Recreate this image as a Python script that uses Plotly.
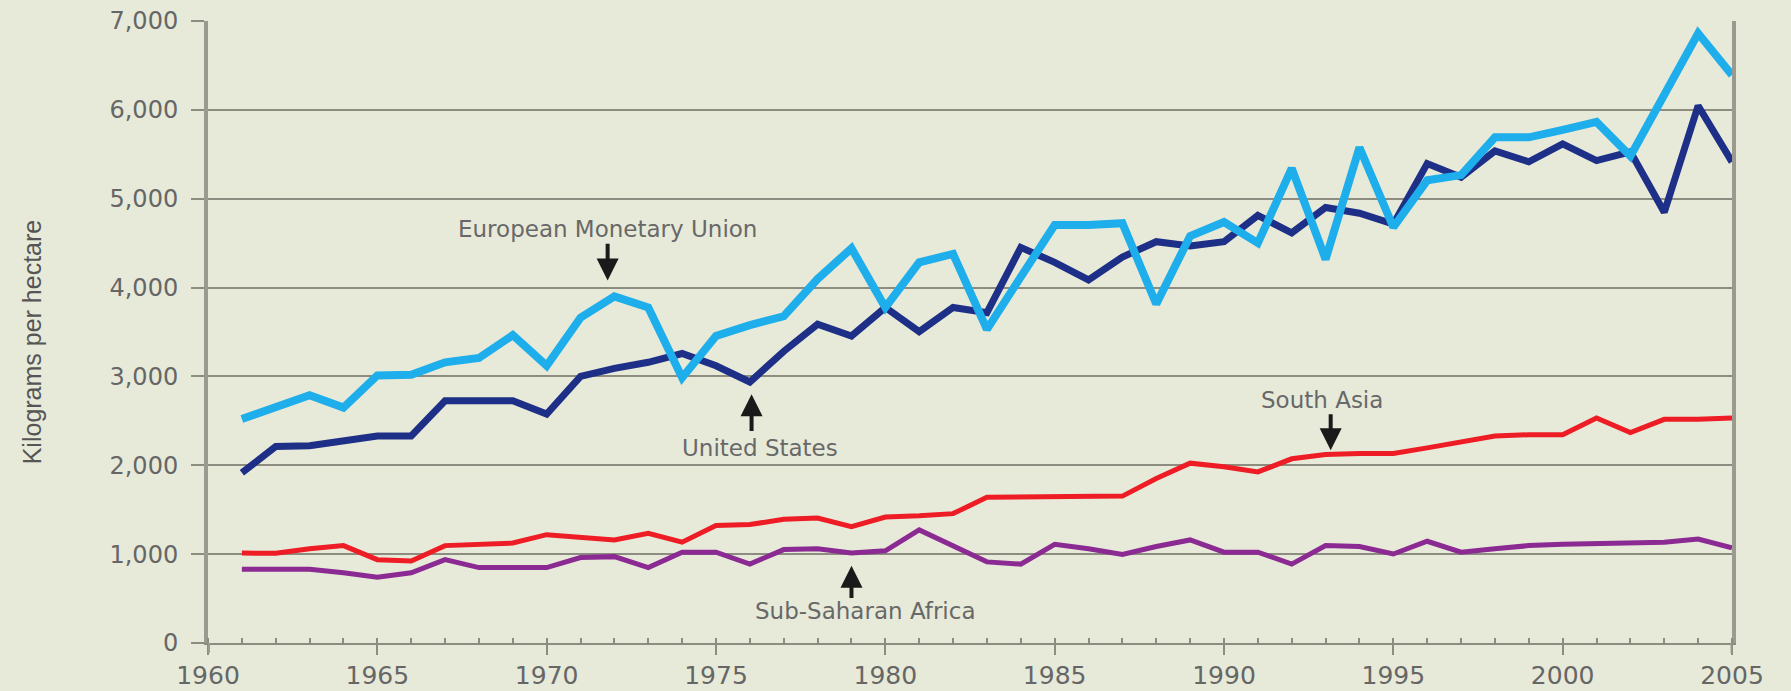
import plotly.graph_objects as go

years = list(range(1961, 2006))

emu = [2520, 2650, 2789, 2650, 3011, 3020, 3159, 3208, 3465, 3120,
       3662, 3900, 3776, 2986, 3455, 3578, 3677, 4097, 4442, 3776,
       4284, 4378, 3529, 4121, 4704, 4704, 4724, 3815, 4580, 4738,
       4501, 5341, 4319, 5577, 4679, 5207, 5266, 5691, 5691, 5775,
       5864, 5479, 6194, 6861, 6392]

us = [1915, 2211, 2221, 2280, 2330, 2330, 2725, 2725, 2725, 2577,
      3001, 3090, 3159, 3258, 3120, 2937, 3282, 3588, 3455, 3776,
      3504, 3776, 3717, 4452, 4284, 4087, 4344, 4516, 4467, 4516,
      4812, 4615, 4901, 4837, 4714, 5395, 5242, 5538, 5415, 5617,
      5429, 5528, 4847, 6046, 5415]

south_asia = [1012, 1010, 1061, 1096, 938, 923, 1096, 1110, 1125, 1219,
              1185, 1160, 1234, 1135, 1323, 1333, 1392, 1407, 1308, 1417,
              1431, 1456, 1639, 1639, 1639, 1639, 1653, 1851, 2024, 1984,
              1925, 2073, 2122, 2132, 2132, 2196, 2261, 2330, 2344, 2344,
              2532, 2369, 2517, 2517, 2532]

ssa = [829, 830, 830, 790, 740, 790, 938, 849, 849, 849,
       962, 972, 849, 1022, 1022, 888, 1051, 1061, 1012, 1037,
       1273, 1096, 913, 888, 1111, 1061, 997, 1086, 1160, 1022,
       1022, 888, 1096, 1086, 1002, 1145, 1022, 1061, 1096, 1111,
       1120, 1120, 1135, 1170, 1071]

y_ticks = [0, 1000, 2000, 3000, 4000, 5000, 6000, 7000]
y_tick_text = ["0", "1,000", "2,000", "3,000", "4,000", "5,000", "6,000", "7,000"]
x_ticks = [1960, 1965, 1970, 1975, 1980, 1985, 1990, 1995, 2000, 2005]

# annotation labels: (text, x, y)
labels = [
    ("European Monetary Union", 1971.8, 4660),
    ("United States", 1976.3, 2190),
    ("South Asia", 1992.9, 2740),
    ("Sub-Saharan Africa", 1979.4, 355),
]
# arrows: (tip_x, tip_y, tail_x, tail_y)
arrows = [
    (1971.8, 4080, 1971.8, 4510),
    (1976.05, 2800, 1976.05, 2370),
    (1993.15, 2170, 1993.15, 2590),
    (1979.0, 870, 1979.0, 490),
]

BG = "#E7EAD9"
GRID = "#8C8C80"
TXT = "#686868"

fig = go.Figure()
fig.add_trace(go.Scatter(x=years, y=ssa, mode="lines", line=dict(color="#8B2A92", width=5), name="Sub-Saharan Africa"))
fig.add_trace(go.Scatter(x=years, y=south_asia, mode="lines", line=dict(color="#EE1C25", width=5), name="South Asia"))
fig.add_trace(go.Scatter(x=years, y=us, mode="lines", line=dict(color="#1D2F87", width=7), name="United States"))
fig.add_trace(go.Scatter(x=years, y=emu, mode="lines", line=dict(color="#1EAEEB", width=8), name="European Monetary Union"))

for text, x, y in labels:
    fig.add_annotation(x=x, y=y, xref="x", yref="y", text=text, showarrow=False,
                       font=dict(family="DejaVu Sans", size=23, color=TXT))
for tx, ty, ax, ay in arrows:
    fig.add_annotation(x=tx, y=ty, ax=ax, ay=ay, xref="x", yref="y", axref="x", ayref="y",
                       text="", showarrow=True, arrowhead=2, arrowsize=1.1, arrowwidth=4,
                       arrowcolor="#1A1A1A", standoff=0)

fig.add_annotation(text="Kilograms per hectare", xref="paper", yref="paper",
                   x=-0.1155, y=0.485, xanchor="center", yanchor="middle", textangle=-90,
                   showarrow=False, font=dict(family="Liberation Sans", size=25, color="#555555"))

# y-axis line extends slightly below the x-axis
fig.add_shape(type="line", xref="x", yref="paper", x0=1960, x1=1960, y0=-0.016, y1=0,
              line=dict(color="#9A9A90", width=4))
fig.add_shape(type="line", xref="x", yref="paper", x0=2005, x1=2005, y0=-0.016, y1=0,
              line=dict(color="#9A9A90", width=3))

fig.update_layout(
    width=1791, height=691,
    paper_bgcolor=BG, plot_bgcolor=BG,
    margin=dict(l=208, r=59, t=21, b=48),
    showlegend=False,
    xaxis=dict(range=[1960, 2005], tickvals=x_ticks, ticktext=[str(v) for v in x_ticks],
               showgrid=False, zeroline=False, showline=True, linecolor=GRID, linewidth=2,
               ticks="outside", ticklen=10, tickwidth=2, tickcolor=GRID,
               minor=dict(dtick=1, ticks="inside", ticklen=5, tickwidth=2, tickcolor=GRID, showgrid=False),
               tickfont=dict(family="DejaVu Sans", size=25, color="#666666"),
               ticklabelstandoff=-1, automargin=False),
    yaxis=dict(range=[0, 7000], tickvals=y_ticks, ticktext=y_tick_text,
               showgrid=True, gridcolor=GRID, gridwidth=2, zeroline=False,
               showline=True, linecolor="#9A9A90", linewidth=4, mirror=True,
               ticks="outside", ticklen=13, tickwidth=2, tickcolor=GRID,
               tickfont=dict(family="DejaVu Sans", size=24, color="#666666"),
               ticklabelstandoff=8, automargin=False),
)

fig.write_html("out.html", config={"displayModeBar": False},
               post_script="document.body.style.margin='0';document.body.style.background='%s';" % BG)
